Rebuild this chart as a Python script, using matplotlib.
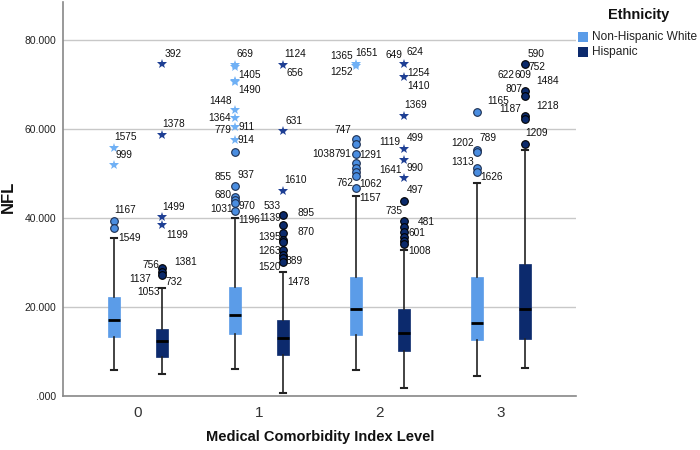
import numpy as np
import matplotlib
matplotlib.use("Agg")
import matplotlib.pyplot as plt
from matplotlib.patches import Rectangle
from matplotlib.ticker import FuncFormatter

plt.rcParams['font.family'] = ['Liberation Sans', 'DejaVu Sans']

# categories and groups
categories = [0, 1, 2, 3]
groups = ['Non-Hispanic White', 'Hispanic']

# box statistics
nhw_q1 = [13.2, 13.9, 13.6, 12.6]
nhw_med = [17.0, 18.2, 19.5, 16.5]
nhw_q3 = [22.3, 24.5, 26.7, 26.7]
nhw_lo = [5.8, 6.1, 5.8, 4.6]
nhw_hi = [35.6, 40.0, 45.0, 47.9]

his_q1 = [8.8, 9.1, 10.1, 12.7]
his_med = [12.4, 13.0, 14.1, 19.6]
his_q3 = [15.1, 17.0, 19.5, 29.7]
his_lo = [5.0, 0.7, 1.9, 6.4]
his_hi = [24.3, 27.8, 32.7, 55.3]

# outliers: category, group (0 = NHW, 1 = Hispanic), value, extreme (star) or not
out_cat = [0, 0, 0, 0,
           0, 0, 0, 0, 0, 0, 0,
           1, 1, 1, 1, 1, 1, 1, 1, 1, 1, 1, 1, 1, 1,
           1, 1, 1, 1, 1, 1, 1, 1, 1, 1, 1, 1,
           2, 2, 2, 2, 2, 2, 2, 2, 2, 2,
           2, 2, 2, 2, 2, 2, 2, 2, 2, 2, 2, 2, 2,
           3, 3, 3, 3, 3,
           3, 3, 3, 3, 3, 3]
out_grp = [0] * 4 + [1] * 7 + [0] * 14 + [1] * 12 + [0] * 10 + [1] * 13 + [0] * 5 + [1] * 6
out_val = [55.6, 51.9, 39.2, 37.8,
           74.5, 58.7, 40.1, 38.5, 28.7, 27.9, 27.2,
           74.4, 74.0, 70.8, 70.6, 64.3, 62.4, 60.5, 57.5, 54.9, 47.2, 44.8, 44.0, 43.3, 41.5,
           74.4, 59.6, 46.1, 40.7, 38.4, 36.6, 35.1, 34.7, 32.8, 31.7, 31.0, 30.0,
           74.6, 74.2, 57.7, 56.6, 54.4, 52.3, 51.3, 50.4, 49.5, 46.8,
           74.5, 71.6, 62.9, 55.5, 53.0, 48.9, 43.7, 39.4, 38.0, 36.9, 35.8, 34.9, 34.2,
           63.9, 55.3, 54.7, 51.2, 50.3,
           74.5, 68.6, 67.3, 62.9, 62.2, 56.6]
out_star = [1, 1, 0, 0,
            1, 1, 1, 1, 0, 0, 0,
            1, 1, 1, 1, 1, 1, 1, 1, 0, 0, 0, 0, 0, 0,
            1, 1, 1, 0, 0, 0, 0, 0, 0, 0, 0, 0,
            1, 1, 0, 0, 0, 0, 0, 0, 0, 0,
            1, 1, 1, 1, 1, 1, 0, 0, 0, 0, 0, 0, 0,
            0, 0, 0, 0, 0,
            0, 0, 0, 0, 0, 0]

# case-number labels: text, category, group, value of the point they belong to
lab_text = ['1575', '999', '1167', '1549',
            '392', '1378', '1499', '1199', '756', '1381', '1137', '732', '1053',
            '669', '1405', '1490', '1448', '1364', '779', '911', '914', '855', '937', '680',
            '1031', '970', '1196',
            '1124', '656', '631', '1610', '895', '533', '1139', '870', '1395', '1263', '889',
            '1520', '1478',
            '1365', '1651', '1252', '747', '1038', '791', '1291', '762', '1062', '1157',
            '649', '624', '1254', '1410', '1369', '1119', '499', '990', '1641', '497', '735',
            '481', '601', '1008',
            '1165', '1202', '789', '1313', '1626',
            '590', '752', '622', '609', '1484', '807', '1187', '1218', '1209']
lab_cat = [0] * 13 + [1] * 27 + [2] * 24 + [3] * 14
lab_grp = ([0] * 4 + [1] * 9 + [0] * 14 + [1] * 13 + [0] * 10 + [1] * 14
           + [0] * 5 + [1] * 9)
lab_val = [55.6, 51.9, 39.2, 37.8,
           74.5, 58.7, 40.1, 38.5, 28.7, 28.7, 27.2, 27.2, 27.2,
           74.4, 70.8, 70.8, 64.3, 62.4, 60.5, 60.5, 57.5, 47.2, 47.2, 44.8,
           41.5, 41.5, 41.5,
           74.4, 74.4, 59.6, 46.1, 40.7, 40.7, 38.4, 36.6, 35.1, 32.8, 31.0,
           30.0, 30.0,
           74.6, 74.6, 74.6, 57.7, 54.4, 54.4, 54.4, 46.8, 46.8, 46.8,
           74.5, 74.5, 71.6, 71.6, 62.9, 55.5, 55.5, 53.0, 48.9, 43.7, 39.4,
           39.4, 36.9, 34.2,
           63.9, 55.3, 55.3, 51.2, 50.3,
           74.5, 74.5, 68.6, 68.6, 68.6, 68.6, 62.9, 62.9, 56.6]
# label offsets from the point, in pixels (left edge, vertical centre; +y is down)
lab_off = [(0, -11), (2, -10), (0, -11), (4, 10),
           (2, -10), (0, -11), (0, -10), (4, 10), (-20, -3), (12, -6), (-33, 4), (3, 7), (-25, 17),
           (2, -11), (3, -6), (3, 9), (-26, -9), (-27, 0), (-20, 3), (4, 0), (3, 0), (-20, -9),
           (3, -11), (-20, -2),
           (-25, -2), (4, -5), (3, 9),
           (1, -11), (3, 8), (2, -10), (1, -11), (14, -2), (-20, -9), (-24, -7), (14, -1),
           (-25, -3), (-25, 1), (2, 3),
           (-25, 5), (4, 20),
           (-26, -8), (-1, -11), (-26, 8), (-21, -9), (-44, 0), (-21, 0), (3, 1), (-19, -5),
           (3, -4), (3, 10),
           (-19, -9), (2, -12), (3, -4), (3, 9), (0, -11), (-25, -7), (3, -11), (2, 8),
           (-25, -8), (3, -11), (-19, -10),
           (14, 1), (4, 1), (4, 7),
           (10, -11), (-26, -7), (3, -12), (-26, -6), (3, 5),
           (2, -10), (3, 3), (-28, -16), (-11, -16), (11, -10), (-20, -2), (-26, -7), (11, -10),
           (0, -11)]

box_colors = ['#5b9ce8', '#0c2a6d']
circle_fill = ['#4a8de0', '#0b2a6b']
circle_edge = ['#1c2e50', '#000000']
star_colors = ['#6fb0f5', '#1e3f94']
shift = [-0.2, 0.2]

fig = plt.figure(figsize=(7, 4.5), dpi=100)
ax = fig.add_axes([63 / 700, 54 / 450, 513 / 700, 394 / 450])

stats_all = [(nhw_q1, nhw_med, nhw_q3, nhw_lo, nhw_hi),
             (his_q1, his_med, his_q3, his_lo, his_hi)]
for g in range(2):
    q1, med, q3, lo, hi = stats_all[g]
    stats = []
    for i in range(len(categories)):
        stats.append({'med': med[i], 'q1': q1[i], 'q3': q3[i],
                      'whislo': lo[i], 'whishi': hi[i], 'fliers': []})
    pos = [c + shift[g] for c in categories]
    ax.bxp(stats, positions=pos, widths=0.1, patch_artist=True, showfliers=False,
           boxprops=dict(facecolor=box_colors[g], edgecolor=box_colors[g], linewidth=0.5),
           medianprops=dict(color='black', linewidth=2),
           whiskerprops=dict(color='#222222', linewidth=1.2),
           capprops=dict(color='#222222', linewidth=1.5),
           capwidths=0.05, zorder=3)

out_x = np.array([c + shift[g] for c, g in zip(out_cat, out_grp)])
out_v = np.array(out_val)
og = np.array(out_grp)
os_ = np.array(out_star)
for g in range(2):
    m = (og == g) & (os_ == 0)
    ax.plot(out_x[m], out_v[m], 'o', ms=5.5, mfc=circle_fill[g], mec=circle_edge[g],
            mew=0.8, zorder=4, clip_on=False)
    m = (og == g) & (os_ == 1)
    ax.plot(out_x[m], out_v[m], '*', ms=7, color=star_colors[g], mew=0, zorder=4,
            clip_on=False)

for t, c, g, v, (dx, dy) in zip(lab_text, lab_cat, lab_grp, lab_val, lab_off):
    ax.annotate(t, xy=(c + shift[g], v), xytext=(dx * 0.72, -dy * 0.72),
                textcoords='offset points', ha='left', va='center',
                fontsize=7.3, color='#111111', zorder=5)

ax.set_xlim(-0.62, 3.62)
ax.set_ylim(0, 88.5)
ax.set_xticks(categories)
ax.set_xticklabels([str(c) for c in categories], fontsize=11, color='#333333')
ax.set_yticks([0, 20, 40, 60, 80])
ax.yaxis.set_major_formatter(FuncFormatter(
    lambda v, p: ('%.3f' % v).lstrip('0') if v == 0 else '%.3f' % v))
ax.tick_params(axis='y', length=0, labelsize=7.5, labelcolor='#222222', pad=5)
ax.tick_params(axis='x', length=0, pad=7)
ax.yaxis.grid(True, color='#c8c8c8', linewidth=1)
ax.set_axisbelow(True)
for s in ['top', 'right']:
    ax.spines[s].set_visible(False)
for s in ['left', 'bottom']:
    ax.spines[s].set_color('#888888')
    ax.spines[s].set_linewidth(1.2)

fig.text(320 / 700, 1 - 437 / 450, 'Medical Comorbidity Index Level',
         ha='center', va='center', fontsize=10.5, fontweight='bold', color='#111111')
fig.text(8 / 700, 1 - 197 / 450, 'NFL', ha='center', va='center', rotation=90,
         fontsize=12, fontweight='bold', color='#111111')

# legend, drawn by hand to match the SPSS layout
fig.text(639 / 700, 1 - 15 / 450, 'Ethnicity', ha='center', va='center',
         fontsize=10.5, fontweight='bold', color='#111111')
for g in range(2):
    yc = 37 + 15 * g
    fig.add_artist(Rectangle((578 / 700, 1 - (yc + 4.5) / 450), 10 / 700, 9 / 450,
                             transform=fig.transFigure, facecolor=box_colors[g],
                             edgecolor='none'))
    fig.text(592 / 700, 1 - yc / 450, groups[g], ha='left', va='center',
             fontsize=8.6, color='#222222')

fig.savefig('out.png', dpi=100)
